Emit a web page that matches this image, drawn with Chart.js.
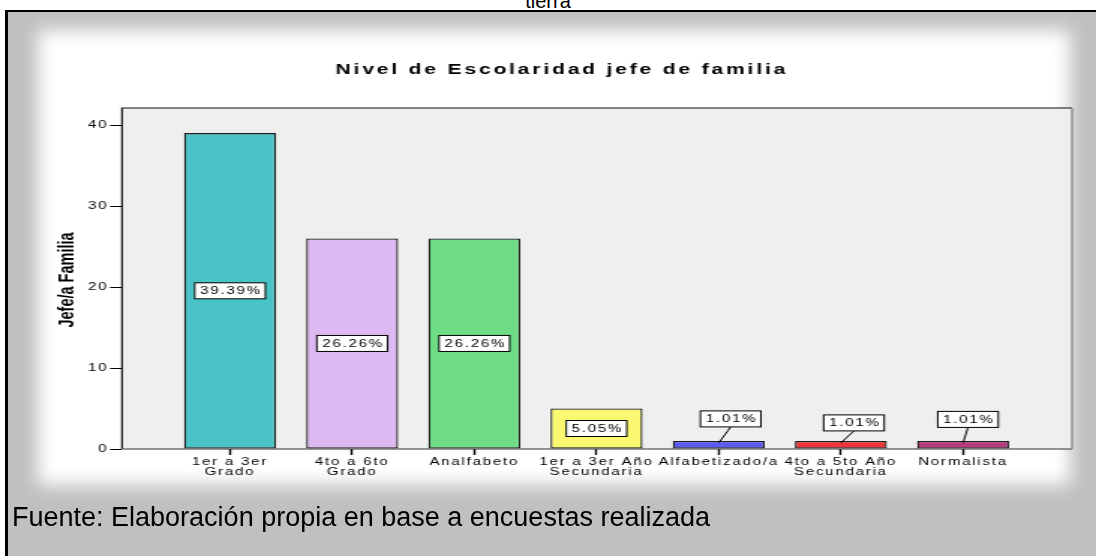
<!DOCTYPE html>
<html>
<head>
<meta charset="utf-8">
<script src="https://cdn.jsdelivr.net/npm/chart.js@4.4.1/dist/chart.umd.min.js"></script>
<style>
  html { overflow: hidden; }
  html, body { margin: 0; padding: 0; }
  body { width: 1096px; height: 556px; overflow: hidden; background: #fff; position: relative; font-family: "Liberation Sans", Arial, sans-serif; }
  #tierra { position: absolute; left: 0; top: -9px; width: 1096px; text-align: center; font-size: 20px; line-height: 20px; color: #000; }
  #frame { position: absolute; left: 5px; top: 10px; width: 1300px; height: 700px; background: #c0c0c0; border-left: 3px solid #000; border-top: 2px solid #000; overflow: hidden; }
  #glow { position: absolute; left: 30px; top: 18px; width: 1032px; height: 455px; background: #fff; filter: blur(9px); }
  #chart { position: absolute; left: 0; top: 0; transform-origin: 0 0; }
  #fuente { position: absolute; left: 12px; top: 504px; font-size: 27px; line-height: 27px; color: #000; white-space: nowrap; }
</style>
</head>
<body>
<div id="tierra">tierra</div>
<div id="frame"><div id="glow"></div></div>
<canvas id="chart" width="731" height="556"></canvas>
<div id="fuente">Fuente: Elaboración propia en base a encuestas realizada</div>
<script>
// ---- data ----
const categories = [
  ['1er a 3er', 'Grado'],
  ['4to a 6to', 'Grado'],
  'Analfabeto',
  ['1er a 3er Año', 'Secundaria'],
  'Alfabetizado/a',
  ['4to a 5to Año', 'Secundaria'],
  'Normalista'
];
const counts = [39, 26, 26, 5, 1, 1, 1];
const percentLabels = ['39.39%', '26.26%', '26.26%', '5.05%', '1.01%', '1.01%', '1.01%'];
const yTickValues = [0, 10, 20, 30, 40];
const chartTitle = 'Nivel de Escolaridad jefe de familia';
const yAxisTitle = 'Jefe/a Familia';

// ---- styles ----
const barColors = ['#49C3C6', '#DDB9F1', '#6EDD86', '#FAF870', '#5A5BF4', '#EE3338', '#B73C7F'];
const S = 1096 / 731; // horizontal stretch of the picture
const canvas = document.getElementById('chart');
canvas.style.transform = 'scaleX(' + S + ')';

const TICK_FONT = '"Liberation Sans", Arial, sans-serif';
const LS = 1.2;

const framePlugin = {
  id: 'frameDeco',
  beforeDraw(chart) {
    const { ctx, chartArea: a } = chart;
    ctx.fillStyle = '#efefef';
    ctx.fillRect(a.left, a.top, a.right - a.left, a.bottom - a.top);
    ctx.letterSpacing = LS + 'px';
  },
  afterDatasetsDraw(chart) {
    const { ctx, chartArea: a } = chart;
    ctx.save();
    ctx.letterSpacing = '0px';
    ctx.lineWidth = 1.2;
    ctx.strokeStyle = '#111';
    ctx.beginPath();
    ctx.moveTo(a.left, a.bottom); ctx.lineTo(a.left, a.top); ctx.lineTo(a.right, a.top);
    ctx.stroke();
    ctx.beginPath();
    ctx.strokeStyle = '#333';
    ctx.moveTo(a.left, a.bottom); ctx.lineTo(a.right, a.bottom);
    ctx.stroke();
    ctx.beginPath();
    ctx.strokeStyle = '#8a8a8a';
    ctx.lineWidth = 1.4;
    ctx.moveTo(a.right, a.top); ctx.lineTo(a.right, a.bottom);
    ctx.stroke();

    // percentage labels
    const meta = chart.getDatasetMeta(0);
    const callouts = chart.options.plugins.frameDeco.callouts;
    ctx.font = '10px ' + TICK_FONT;
    ctx.letterSpacing = LS + 'px';
    ctx.textAlign = 'center';
    ctx.textBaseline = 'middle';
    meta.data.forEach((bar, i) => {
      const text = percentLabels[i];
      const w = ctx.measureText(text).width + 6;
      const h = 16;
      let cx, cy;
      const co = callouts[i];
      ctx.strokeStyle = '#000';
      ctx.lineWidth = 1;
      if (co) {
        cx = bar.x + co[0];
        cy = bar.y - co[1];
        ctx.beginPath();
        ctx.moveTo(bar.x, bar.y + 2);
        ctx.lineTo(cx, cy + h / 2);
        ctx.stroke();
      } else {
        cx = bar.x;
        cy = (bar.y + bar.base) / 2;
      }
      ctx.fillStyle = '#fff';
      ctx.fillRect(cx - w / 2, cy - h / 2, w, h);
      ctx.strokeRect(cx - w / 2, cy - h / 2, w, h);
      ctx.fillStyle = '#000';
      ctx.fillText(text, cx + LS / 2, cy + 0.5);
    });
    ctx.restore();
  },
  afterDraw(chart) {
    const { ctx, chartArea: a } = chart;
    ctx.save();
    ctx.fillStyle = '#000';
    ctx.textAlign = 'center';
    ctx.textBaseline = 'middle';
    ctx.font = 'bold 14px ' + TICK_FONT;
    ctx.letterSpacing = '1.9px';
    ctx.fillText(chartTitle, 373.8 + 0.95, 70);
    ctx.letterSpacing = '0px';
    ctx.font = 'bold 14.5px ' + TICK_FONT;
    ctx.translate(45.4, (a.top + a.bottom) / 2 + 1.5);
    ctx.rotate(-Math.PI / 2);
    ctx.fillText(yAxisTitle, 0, 0);
    ctx.restore();
  }
};

new Chart(canvas, {
  type: 'bar',
  data: {
    datasets: [{
      data: counts.map((v, i) => ({ x: i, y: v })),
      backgroundColor: barColors,
      borderColor: '#1a1a1a',
      borderWidth: 1.3,
      borderSkipped: false,
      categoryPercentage: 1,
      barPercentage: 0.753
    }]
  },
  plugins: [framePlugin],
  options: {
    responsive: false,
    animation: false,
    devicePixelRatio: 1,
    layout: { padding: { left: 32, right: 16, top: 108, bottom: 67 } },
    plugins: {
      legend: { display: false },
      tooltip: { enabled: false },
      title: { display: false },
      frameDeco: { callouts: [null, null, null, null, [8, 22], [8.7, 18], [3.3, 21.5]] }
    },
    scales: {
      x: {
        type: 'linear',
        min: -0.884,
        max: 6.892,
        offset: false,
        afterBuildTicks: s => { s.ticks = categories.map((c, i) => ({ value: i })); },
        afterFit: s => { s.height = 40; s.paddingLeft = 0; s.paddingRight = 0; },
        ticks: {
          autoSkip: false, maxRotation: 0, minRotation: 0, padding: 2, color: '#000',
          font: { family: TICK_FONT, size: 10, lineHeight: 1.0 },
          callback: v => categories[v]
        },
        grid: { display: true, offset: false, drawOnChartArea: false, drawTicks: true, tickLength: 6, tickWidth: 1.4, tickColor: '#000' },
        border: { display: false }
      },
      y: {
        min: 0,
        max: 42.1,
        afterBuildTicks: s => { s.ticks = yTickValues.map(v => ({ value: v })); },
        afterFit: s => { s.width = 49.37; s.paddingTop = 0; s.paddingBottom = 0; },
        ticks: { padding: 1, color: '#000', font: { family: TICK_FONT, size: 10 } },
        grid: { display: true, offset: false, drawOnChartArea: false, drawTicks: true, tickLength: 8, tickWidth: 1, tickColor: '#000' },
        border: { display: false }
      }
    }
  }
});
</script>
</body>
</html>
